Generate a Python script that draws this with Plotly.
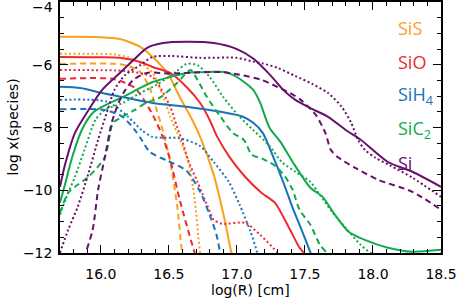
import plotly.graph_objects as go

# ---------------- data ----------------
species = ["SiS", "SiO", "SiH4", "SiC2", "Si"]
legend_labels = ["SiS", "SiO", "SiH<sub>4</sub>", "SiC<sub>2</sub>", "Si"]
colors = {"SiS": "#F9A11B", "SiO": "#EE2A30", "SiH4": "#1A72BA",
          "SiC2": "#10AA4C", "Si": "#680F6A"}

sis_solid_x = [15.70, 16.00, 16.14, 16.29, 16.38, 16.49, 16.58, 16.66, 16.73, 16.83, 16.91, 16.96, 17.0]
sis_solid_y = [-5.11, -5.12, -5.18, -5.43, -5.75, -6.26, -7.03, -7.66, -8.30, -9.51, -10.94, -12.0, -12.6]
sis_dash_x = [15.70, 16.10, 16.20, 16.29, 16.36, 16.41, 16.46, 16.51, 16.56, 16.60, 16.63]
sis_dash_y = [-5.97, -5.97, -6.03, -6.23, -6.74, -7.44, -8.17, -9.10, -10.46, -12.05, -12.6]
sis_dot_x = [15.70, 16.10, 16.20, 16.29, 16.38, 16.46, 16.51, 16.56, 16.64, 16.69, 16.73, 16.76]
sis_dot_y = [-5.65, -5.67, -5.76, -5.94, -6.26, -7.03, -7.66, -8.17, -9.03, -10.30, -12.0, -12.6]

sio_solid_x = [15.70, 16.00, 16.14, 16.29, 16.38, 16.51, 16.63, 16.73, 16.80, 16.85, 16.95, 17.06, 17.18, 17.28, 17.38,
               17.46, 17.51, 17.54]
sio_solid_y = [-5.75, -5.76, -5.78, -5.91, -6.07, -6.26, -6.71, -7.22, -7.76, -8.25, -8.97, -9.57, -10.08, -10.40, -11.17,
               -11.83, -12.1, -12.5]
sio_dash_x = [15.70, 16.10, 16.25, 16.34, 16.40, 16.45, 16.51, 16.58, 16.69, 16.73]
sio_dash_y = [-6.45, -6.46, -6.74, -7.28, -7.76, -8.24, -9.03, -10.31, -12.0, -12.5]
sio_dot_x = [15.70, 16.10, 16.20, 16.38, 16.51, 16.56, 16.60, 16.64, 16.71, 16.78, 16.83, 16.89, 17.06, 17.17, 17.30, 17.36]
sio_dot_y = [-6.17, -6.18, -6.21, -6.39, -7.34, -7.98, -8.45, -9.03, -9.73, -10.46, -10.94, -11.07, -11.04, -11.42, -12.0, -12.4]

sih4_solid_x = [15.70, 15.85, 16.01, 16.16, 16.38, 16.63, 16.88, 17.04, 17.12, 17.19, 17.27, 17.34, 17.41, 17.49, 17.55, 17.58]
sih4_solid_y = [-6.70, -6.74, -6.90, -7.03, -7.22, -7.34, -7.50, -7.65, -7.85, -8.17, -8.97, -9.73, -10.56, -11.42, -12.1, -12.5]
sih4_dash_x = [15.70, 16.03, 16.16, 16.25, 16.30, 16.36, 16.49, 16.63, 16.73, 16.80, 16.85, 16.88, 16.90]
sih4_dash_y = [-7.42, -7.44, -7.66, -8.08, -8.39, -8.78, -9.06, -9.38, -10.05, -10.78, -11.42, -12.06, -12.5]
sih4_dot_x = [15.70, 16.05, 16.20, 16.30, 16.38, 16.58, 16.73, 16.83, 16.94, 17.02, 17.10, 17.15, 17.18]
sih4_dot_y = [-7.12, -7.18, -7.66, -8.08, -8.30, -8.34, -8.59, -9.10, -9.73, -10.46, -11.32, -12.0, -12.5]

sic2_solid_x = [15.70, 15.74, 15.79, 15.86, 15.94, 16.01, 16.16, 16.29, 16.38, 16.51, 16.63, 16.80, 16.91, 17.00, 17.12,
                17.17, 17.24, 17.32, 17.41, 17.54, 17.63, 17.72, 17.82, 17.94, 18.11, 18.29, 18.50]
sic2_solid_y = [-10.40, -9.76, -8.94, -8.08, -7.54, -7.34, -7.03, -6.74, -6.55, -6.39, -6.26, -6.23, -6.23, -6.39, -6.80,
                -7.20, -8.01, -8.46, -9.10, -9.92, -10.21, -10.78, -11.32, -11.58, -11.83, -11.96, -11.90]
sic2_dash_x = [15.70, 15.76, 15.81, 15.91, 16.03, 16.09, 16.16, 16.25, 16.33, 16.44, 16.56, 16.66, 16.71, 16.78, 16.88,
               16.97, 17.05, 17.11, 17.19, 17.28, 17.35, 17.41, 17.46, 17.54, 17.61, 17.66, 17.69]
sic2_dash_y = [-10.72, -10.08, -9.89, -9.57, -8.94, -7.85, -7.66, -7.44, -7.22, -7.03, -6.58, -6.17, -6.48, -7.03, -7.66,
               -8.17, -8.39, -8.87, -9.00, -9.22, -9.54, -9.99, -10.62, -11.10, -11.74, -12.0, -12.3]
sic2_dot_x = [15.70, 15.74, 15.81, 15.88, 15.96, 16.03, 16.16, 16.29, 16.41, 16.55, 16.63, 16.71, 16.80, 16.90, 17.02,
              17.12, 17.24, 17.33, 17.43, 17.54, 17.61, 17.70, 17.80, 17.91, 18.02, 18.31, 18.50]
sic2_dot_y = [-10.78, -10.30, -9.57, -8.71, -7.76, -7.44, -7.22, -6.90, -6.64, -6.23, -5.97, -6.01, -6.39, -7.03, -7.66,
              -8.08, -8.59, -9.10, -9.41, -9.73, -10.15, -10.69, -11.20, -11.74, -12.09, -12.15, -12.0]

si_solid_x = [15.70, 15.74, 15.81, 15.91, 16.01, 16.14, 16.24, 16.34, 16.46, 16.63, 16.83, 17.00, 17.12, 17.21, 17.27,
              17.34, 17.43, 17.54, 17.67, 17.80, 17.91, 18.11, 18.29, 18.50]
si_solid_y = [-9.89, -9.13, -8.17, -7.44, -6.80, -6.26, -5.85, -5.46, -5.31, -5.27, -5.31, -5.50, -5.80, -6.17, -6.45,
              -6.80, -7.12, -7.38, -7.66, -8.08, -8.39, -9.10, -9.41, -9.89]
si_dash_x = [15.87, 15.88, 15.94, 15.98, 16.03, 16.08, 16.13, 16.18, 16.24, 16.34, 16.51, 16.63, 16.88, 17.02, 17.18,
             17.30, 17.39, 17.47, 17.58, 17.65, 17.69, 17.74, 17.87, 18.04, 18.29, 18.50]
si_dash_y = [-12.5, -12.15, -11.26, -9.99, -8.94, -7.85, -7.22, -6.80, -6.48, -6.26, -6.28, -6.26, -6.23, -6.32, -6.48,
             -6.71, -6.90, -7.12, -7.60, -8.17, -8.71, -8.94, -9.29, -9.67, -10.05, -10.62]
si_dot_x = [15.70, 15.76, 15.83, 15.91, 15.98, 16.05, 16.10, 16.18, 16.29, 16.38, 16.51, 16.73, 17.00, 17.12, 17.19,
            17.30, 17.43, 17.55, 17.67, 17.77, 17.84, 17.89, 17.94, 18.02, 18.13, 18.29, 18.50]
si_dot_y = [-11.99, -11.26, -10.53, -9.45, -8.39, -7.44, -6.80, -6.32, -6.01, -5.75, -5.72, -5.78, -5.78, -5.90, -5.96,
            -6.10, -6.36, -6.60, -6.90, -7.34, -7.85, -8.39, -8.71, -8.97, -9.22, -9.60, -10.21]

x_range = [15.7, 18.5]
y_range = [-12, -4]
x_ticks = [16.0, 16.5, 17.0, 17.5, 18.0, 18.5]
x_ticklabels = ["16.0", "16.5", "17.0", "17.5", "18.0", "18.5"]
y_ticks = [-12, -10, -8, -6, -4]
y_ticklabels = ["\u221212", "\u221210", "\u22128", "\u22126", ""]
top_label = "\u22124"
x_title = "log(R) [cm]"
y_title = "log x(species)"

curves = [
    ("SiS", "solid", sis_solid_x, sis_solid_y), ("SiS", "dash", sis_dash_x, sis_dash_y), ("SiS", "dot", sis_dot_x, sis_dot_y),
    ("SiO", "solid", sio_solid_x, sio_solid_y), ("SiO", "dash", sio_dash_x, sio_dash_y), ("SiO", "dot", sio_dot_x, sio_dot_y),
    ("SiH4", "solid", sih4_solid_x, sih4_solid_y), ("SiH4", "dash", sih4_dash_x, sih4_dash_y), ("SiH4", "dot", sih4_dot_x, sih4_dot_y),
    ("SiC2", "solid", sic2_solid_x, sic2_solid_y), ("SiC2", "dash", sic2_dash_x, sic2_dash_y), ("SiC2", "dot", sic2_dot_x, sic2_dot_y),
    ("Si", "solid", si_solid_x, si_solid_y), ("Si", "dash", si_dash_x, si_dash_y), ("Si", "dot", si_dot_x, si_dot_y),
]

dash_map = {"solid": "solid", "dash": "6px,4px", "dot": "2px,2.5px"}

fig = go.Figure()
for sp, style, xs, ys in curves:
    fig.add_trace(go.Scatter(
        x=xs, y=ys, mode="lines",
        line=dict(color=colors[sp], width=2, dash=dash_map[style], shape="spline", smoothing=0.7),
        showlegend=False, hoverinfo="skip"))

for i, (sp, lab) in enumerate(zip(species, legend_labels)):
    fig.add_annotation(x=0.882, xref="paper", y=-4.83 - 1.075 * i, yref="y",
                       text=lab, showarrow=False, xanchor="left", yanchor="middle",
                       font=dict(family="Open Sans", size=18, color=colors[sp]))

tick_font = dict(family="DejaVu Sans", size=14, color="black")
fig.add_annotation(x=0, xref="paper", y=-4, yref="y", text=top_label, showarrow=False,
                   xanchor="right", yanchor="middle", xshift=-5, yshift=-5, font=tick_font)
fig.add_annotation(x=0.5, xref="paper", y=0, yref="paper", text=x_title, showarrow=False,
                   xanchor="center", yanchor="middle", yshift=-37, font=tick_font)
fig.add_annotation(x=0, xref="paper", y=0.5, yref="paper", text=y_title, showarrow=False,
                   textangle=-90, xanchor="center", yanchor="middle", xshift=-48, font=tick_font)

axis_common = dict(showgrid=False, zeroline=False, showline=True, linecolor="black", linewidth=1.5,
                   mirror="ticks", ticks="inside", ticklen=8, tickwidth=1.3, tickcolor="black",
                   tickfont=tick_font, automargin=False, ticklabeloverflow="allow")

fig.update_xaxes(range=x_range, tickvals=x_ticks, ticktext=x_ticklabels,
                 minor=dict(dtick=0.1, ticks="inside", ticklen=4, tickwidth=1.1, tickcolor="black"),
                 ticklabelstandoff=7, **axis_common)
fig.update_yaxes(range=y_range, tickvals=y_ticks, ticktext=y_ticklabels,
                 minor=dict(dtick=0.5, ticks="inside", ticklen=4, tickwidth=1.1, tickcolor="black"),
                 ticklabelstandoff=3, **axis_common)

fig.update_layout(width=458, height=301, margin=dict(l=60, r=17, t=2, b=48),
                  plot_bgcolor="white", paper_bgcolor="white")

fig.write_html("out.html", config={"displayModeBar": False},
               post_script="document.body.style.margin='0px';document.body.style.overflow='hidden';")
